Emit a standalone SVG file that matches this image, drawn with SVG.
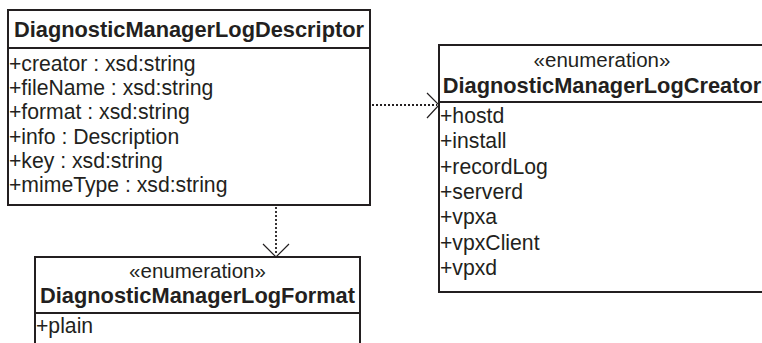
<svg xmlns="http://www.w3.org/2000/svg" width="762" height="343" viewBox="0 0 762 343">
  <style>
    .box { fill: #ffffff; stroke: #231f20; stroke-width: 2; }
    .sep { stroke: #231f20; stroke-width: 2; }
    .title { font-family: "Liberation Sans", Arial, sans-serif; font-weight: bold; font-size: 21.8px; fill: #231f20; text-anchor: middle; }
    .stereo { font-family: "Liberation Sans", Arial, sans-serif; font-size: 20.5px; fill: #231f20; text-anchor: middle; }
    .attr { font-family: "Liberation Sans", Arial, sans-serif; font-size: 21.2px; fill: #231f20; }
    .dep { fill: none; stroke: #231f20; stroke-width: 1.8; stroke-dasharray: 2 2; }
    .head { fill: none; stroke: #231f20; stroke-width: 1.2; }
  </style>

  <g id="DiagnosticManagerLogDescriptor">
    <rect class="box" x="8" y="10" width="362" height="195"/>
    <line class="sep" x1="8" y1="48" x2="370" y2="48"/>
    <text class="title" x="189" y="37">DiagnosticManagerLogDescriptor</text>
    <text class="attr" x="9" y="71">+creator : xsd:string</text>
    <text class="attr" x="9" y="95">+fileName : xsd:string</text>
    <text class="attr" x="9" y="119">+format : xsd:string</text>
    <text class="attr" x="9" y="144">+info : Description</text>
    <text class="attr" x="9" y="168">+key : xsd:string</text>
    <text class="attr" x="9" y="192">+mimeType : xsd:string</text>
  </g>

  <g id="DiagnosticManagerLogCreator">
    <rect class="box" x="439" y="45" width="326" height="247"/>
    <line class="sep" x1="439" y1="102" x2="765" y2="102"/>
    <text class="stereo" x="602" y="67">«enumeration»</text>
    <text class="title" x="602" y="93">DiagnosticManagerLogCreator</text>
    <text class="attr" x="440" y="123">+hostd</text>
    <text class="attr" x="440" y="148">+install</text>
    <text class="attr" x="440" y="174">+recordLog</text>
    <text class="attr" x="440" y="199">+serverd</text>
    <text class="attr" x="440" y="224">+vpxa</text>
    <text class="attr" x="440" y="250">+vpxClient</text>
    <text class="attr" x="440" y="275">+vpxd</text>
  </g>

  <g id="DiagnosticManagerLogFormat">
    <rect class="box" x="35" y="257" width="325" height="100"/>
    <line class="sep" x1="35" y1="313" x2="360" y2="313"/>
    <text class="stereo" x="197.5" y="278">«enumeration»</text>
    <text class="title" x="197.5" y="303">DiagnosticManagerLogFormat</text>
    <text class="attr" x="36" y="333">+plain</text>
  </g>

  <g id="connectors">
    <line class="dep" x1="372" y1="105" x2="437" y2="105"/>
    <polyline class="head" points="427,93 439,105 427,118"/>
    <line class="dep" x1="276" y1="207" x2="276" y2="255"/>
    <polyline class="head" points="263,244 276,257 289,244"/>
  </g>
</svg>
